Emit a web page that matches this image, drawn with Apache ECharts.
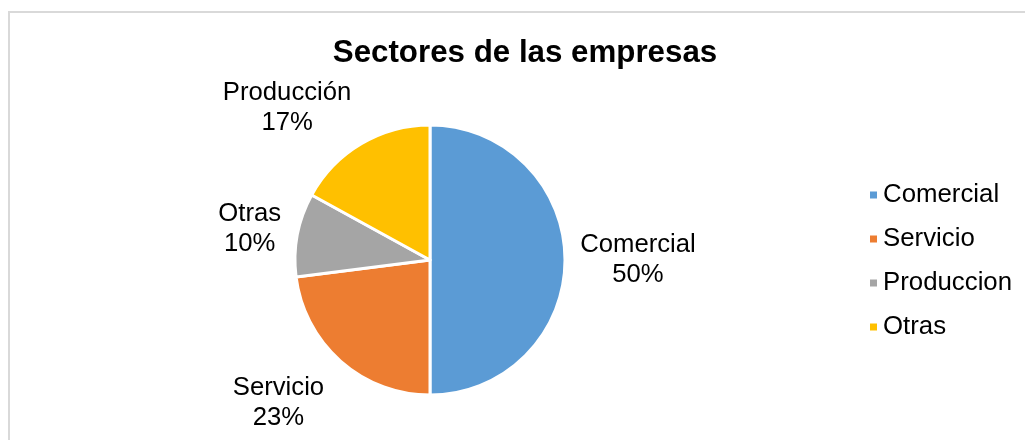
<!DOCTYPE html>
<html>
<head>
<meta charset="utf-8">
<script src="https://cdn.jsdelivr.net/npm/echarts@6/dist/echarts.min.js"></script>
<style>
  html, body { margin: 0; padding: 0; background: #ffffff; }
  #chart { width: 1025px; height: 440px; }
</style>
</head>
<body>
<div id="chart"></div>
<script>
// Company sectors: legend names, names printed beside each slice, and shares (%)
const categories = ['Comercial', 'Servicio', 'Produccion', 'Otras'];
const sliceLabels = ['Comercial', 'Servicio', 'Otras', 'Producción'];
const shares = [50, 23, 10, 17];
const sliceColors = ['#5B9BD5', '#ED7D31', '#A5A5A5', '#FFC000'];

const FONT = '"Liberation Sans", Arial, Helvetica, sans-serif';
const PIE_CENTER = [430, 260];
const PIE_RADIUS = 135;
const LABEL_DISTANCE = 73;
// small per-slice shifts so labels sit clear of the title and neighbours
const labelNudge = [[0, 0], [-14, -13], [24, 8], [-37, 27]];

const total = shares.reduce((a, b) => a + b, 0);
function midDirection(i) {
  let before = 0;
  for (let k = 0; k < i; k++) before += shares[k];
  const t = (before + shares[i] / 2) / total * 2 * Math.PI;
  return [Math.sin(t), -Math.cos(t)];
}

const chart = echarts.init(document.getElementById('chart'), null, { renderer: 'canvas' });

chart.setOption({
  animation: false,
  backgroundColor: '#ffffff',
  color: sliceColors,
  graphic: [{
    type: 'rect',
    silent: true,
    shape: { x: 9, y: 12, width: 2000, height: 2000 },
    style: { fill: 'none', stroke: '#d9d9d9', lineWidth: 2 }
  }],
  title: {
    text: 'Sectores de las empresas',
    left: 520,
    textAlign: 'center',
    top: 33,
    textStyle: { fontFamily: FONT, fontSize: 31.3, fontWeight: 'bold', color: '#000000' }
  },
  legend: {
    orient: 'vertical',
    left: 863,
    top: 175,
    icon: 'rect',
    itemWidth: 9,
    itemHeight: 9,
    itemGap: 14,
    selectedMode: false,
    data: categories,
    textStyle: { fontFamily: FONT, fontSize: 25.8, color: '#000000', lineHeight: 30 }
  },
  series: [{
    type: 'pie',
    center: PIE_CENTER,
    radius: PIE_RADIUS,
    startAngle: 90,
    clockwise: true,
    silent: true,
    emphasis: { disabled: true },
    itemStyle: { borderColor: '#ffffff', borderWidth: 3 },
    label: {
      show: true,
      position: 'outside',
      fontFamily: FONT,
      fontSize: 25.7,
      lineHeight: 30,
      color: '#000000',
      formatter: p => sliceLabels[p.dataIndex] + '\n' + Math.round(p.percent) + '%'
    },
    labelLine: { show: false },
    labelLayout: function (p) {
      const i = p.dataIndex;
      const dir = midDirection(i);
      const d = PIE_RADIUS + LABEL_DISTANCE;
      return {
        x: PIE_CENTER[0] + dir[0] * d + labelNudge[i][0],
        y: PIE_CENTER[1] + dir[1] * d + labelNudge[i][1],
        align: 'center',
        verticalAlign: 'middle'
      };
    },
    data: categories.map((name, i) => ({ name: name, value: shares[i] }))
  }]
});
</script>
</body>
</html>
